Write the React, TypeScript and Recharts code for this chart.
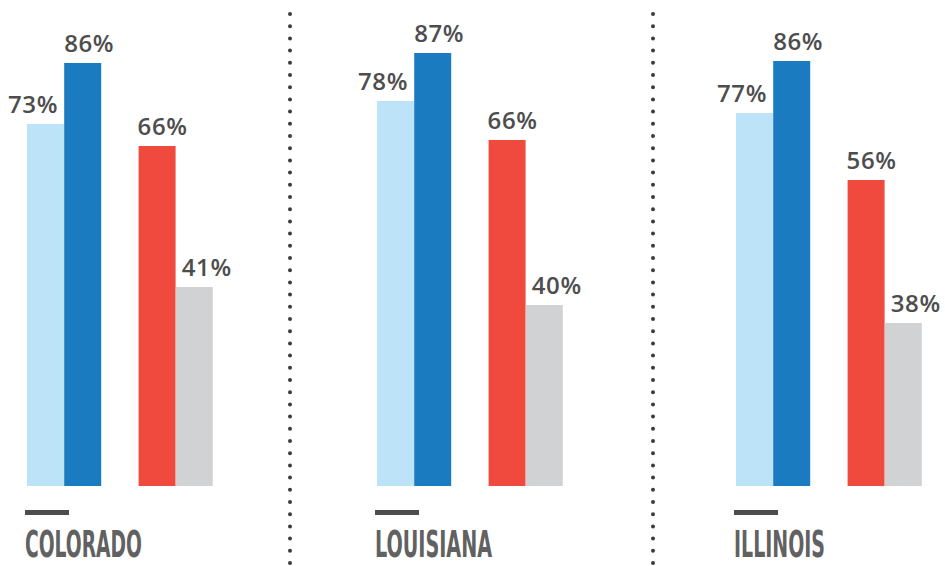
import React from 'react';
import { BarChart, Bar, XAxis, YAxis, Cell, LabelList } from 'recharts';

// one group of bars per state
const states = ['COLORADO', 'LOUISIANA', 'ILLINOIS'];

// bar heights as drawn in the graphic (percent units)
const lightBlue = [72.4, 77, 74.6];
const darkBlue = [84.6, 86.6, 85];
const red = [68, 69.2, 61.2];
const gray = [39.8, 36.2, 32.6];

// printed labels
const lightBlueLabels = ['73%', '78%', '77%'];
const darkBlueLabels = ['86%', '87%', '86%'];
const redLabels = ['66%', '66%', '56%'];
const grayLabels = ['41%', '40%', '38%'];

const COLORS = ['#bde3f8', '#1b7bc0', 'transparent', '#ef4a3d', '#d1d2d4'];
const GROUP_LEFT = [27, 377, 736];
const TITLE_WIDTH = [117, 117, 91];
const DIVIDERS = [290, 653];
const PAD = 30;

function buildRows(i: number) {
  return [
    { key: 'a', value: lightBlue[i], text: lightBlueLabels[i] },
    { key: 'b', value: darkBlue[i], text: darkBlueLabels[i] },
    { key: 'gap', value: null, text: '' },
    { key: 'c', value: red[i], text: redLabels[i] },
    { key: 'd', value: gray[i], text: grayLabels[i] },
  ];
}

const renderLabel = (rows: any[]) => (props: any) => {
  const { x, y, width, value } = props;
  const idx = rows.findIndex((r) => r.value === value);
  const row = rows[idx];
  if (!row || !row.text) return null;
  let tx = x;
  let anchor: 'start' | 'end' = 'start';
  if (idx === 0) {
    tx = x + width - 6;
    anchor = 'end';
  } else if (idx === 4) {
    tx = x + 6;
  } else if (idx === 3) {
    tx = x - 1;
  }
  return (
    <text
      x={tx}
      y={y - 11}
      textAnchor={anchor}
      fill="#4d4d4d"
      fontFamily="'Open Sans', sans-serif"
      fontWeight={600}
      fontSize={24}
      letterSpacing={0.6}
    >
      {row.text}
    </text>
  );
};

function StateBars({ index }: { index: number }) {
  const rows = buildRows(index);
  return (
    <div style={{ position: 'absolute', left: GROUP_LEFT[index] - PAD, top: 0 }}>
      <BarChart
        width={186 + PAD * 2}
        height={486}
        data={rows}
        barCategoryGap={0}
        margin={{ top: 36, right: PAD, bottom: 0, left: PAD }}
      >
        <XAxis dataKey="key" hide />
        <YAxis hide domain={[0, 90]} />
        <Bar dataKey="value" isAnimationActive={false}>
          {rows.map((r, j) => (
            <Cell key={r.key} fill={COLORS[j]} />
          ))}
          <LabelList dataKey="value" content={renderLabel(rows)} />
        </Bar>
      </BarChart>
    </div>
  );
}

export default function App() {
  return (
    <div
      style={{
        position: 'absolute',
        left: 0,
        top: 0,
        width: 945,
        height: 566,
        background: '#fff',
        overflow: 'hidden',
      }}
    >
      {states.map((_, i) => (
        <StateBars key={i} index={i} />
      ))}
      <svg width={945} height={566} style={{ position: 'absolute', left: 0, top: 0 }}>
        {DIVIDERS.map((dx) => (
          <line
            key={dx}
            x1={dx}
            x2={dx}
            y1={14}
            y2={566}
            stroke="#3b3b3b"
            strokeWidth={4}
            strokeLinecap="round"
            strokeDasharray="0 12.2"
          />
        ))}
        {states.map((name, i) => (
          <g key={name}>
            <rect x={GROUP_LEFT[i] - 2} y={510} width={44} height={5} fill="#4d4d4d" />
            <text
              x={GROUP_LEFT[i] - 2}
              y={557}
              fill="#616161"
              fontFamily="'DejaVu Sans Condensed', 'DejaVu Sans', sans-serif"
              fontWeight={700}
              fontSize={38}
              textLength={TITLE_WIDTH[i]}
              lengthAdjust="spacingAndGlyphs"
            >
              {name}
            </text>
          </g>
        ))}
      </svg>
    </div>
  );
}
